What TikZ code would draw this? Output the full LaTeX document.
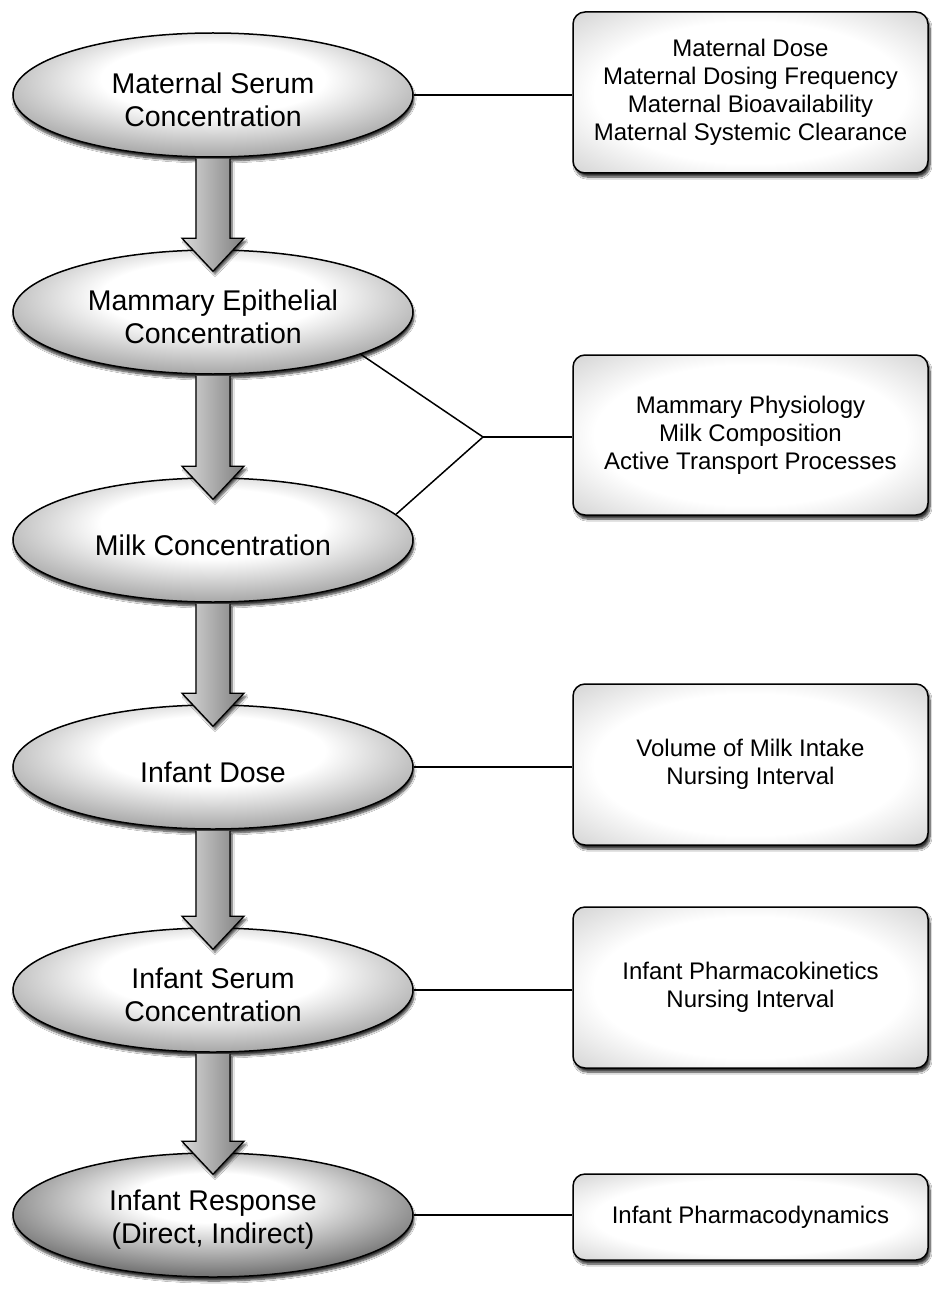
\documentclass[tikz,border=0pt]{standalone}
\usepackage{fontspec}
\setmainfont{Liberation Sans}
\usetikzlibrary{shapes.geometric,shadows.blur,calc}
\pgfdeclareradialshading{ellshade}{\pgfpoint{0bp}{8bp}}{color(0bp)=(white); color(14bp)=(white); color(30bp)=(black!35); color(42bp)=(black!60); color(50bp)=(black!70); color(75bp)=(black!70)}
\pgfdeclareradialshading{ellshadedark}{\pgfpoint{0bp}{8bp}}{color(0bp)=(white); color(10bp)=(white); color(26bp)=(black!45); color(38bp)=(black!82); color(46bp)=(black!97); color(75bp)=(black!97)}
\pgfdeclareradialshading{boxshade}{\pgfpoint{0bp}{0bp}}{color(0bp)=(white); color(22bp)=(white); color(42bp)=(black!25); color(50bp)=(black!35); color(75bp)=(black!45)}
\begin{document}
\begin{tikzpicture}[x=1pt,y=-1pt,
  ell/.style={ellipse, draw=black, line width=1.5pt, minimum width=400pt, minimum height=124pt,
    inner sep=0pt, shade, shading=ellshade,
    blur shadow={shadow xshift=1pt, shadow yshift=-4pt, shadow blur steps=8, shadow opacity=80}},
  elltext/.style={align=center, inner sep=0pt, yshift=-5pt, font=\fontsize{28.5}{33}\selectfont},
  infobox/.style={rectangle, rounded corners=12pt, draw=black, line width=1.5pt,
    minimum width=355pt, minimum height=161pt, inner sep=0pt, align=center, shade, shading=boxshade,
    blur shadow={shadow xshift=2pt, shadow yshift=-4pt, shadow blur steps=8, shadow opacity=80},
    font=\fontsize{24}{28}\selectfont},
  conn/.style={draw=black, line width=1.5pt},
  blockarrow/.style={draw=black, line width=1.3pt, line join=miter, left color=black!15, right color=black!50,
    blur shadow={shadow xshift=2pt, shadow yshift=-3pt, shadow blur steps=6, shadow opacity=70}}
]
\fill[white] (0,0) rectangle (932,1289);
\useasboundingbox (0,0) rectangle (932,1289);

% ellipses
\node[ell, label={[elltext]center:Maternal Serum\\Concentration}] (e1) at (213,95) {};
\node[ell, label={[elltext]center:Mammary Epithelial\\Concentration}] (e2) at (213,312) {};
\node[ell, label={[elltext]center:Milk Concentration}] (e3) at (213,540) {};
\node[ell, label={[elltext]center:Infant Dose}] (e4) at (213,767) {};
\node[ell, label={[elltext]center:Infant Serum\\Concentration}] (e5) at (213,990) {};
\node[ell, shading=ellshadedark, label={[elltext]center:Infant Response\\(Direct, Indirect)}] (e6) at (213,1215) {};

% boxes
\node[infobox] (b1) at (750.5,92.5) {Maternal Dose\\Maternal Dosing Frequency\\Maternal Bioavailability\\Maternal Systemic Clearance};
\node[infobox, minimum height=160pt] (b2) at (750.5,435) {Mammary Physiology\\Milk Composition\\Active Transport Processes};
\node[infobox] (b3) at (750.5,764.5) {Volume of Milk Intake\\Nursing Interval};
\node[infobox] (b4) at (750.5,987.5) {Infant Pharmacokinetics\\Nursing Interval};
\node[infobox, minimum height=86pt] (b5) at (750.5,1217) {Infant Pharmacodynamics};

% connectors
\coordinate (j) at (483,437);
\draw[conn] (e1.east) -- (e1.east -| b1.west);
\draw[conn] (e2.-16) -- (j) -- (e3.8);
\draw[conn] (j) -- (j -| b2.west);
\draw[conn] (e4.east) -- (e4.east -| b3.west);
\draw[conn] (e5.east) -- (e5.east -| b4.west);
\draw[conn] (e6.east) -- (e6.east -| b5.west);

% block arrows
\foreach \a/\b in {e1/e2,e2/e3,e3/e4,e4/e5,e5/e6}{
  \draw[blockarrow] let \p1=(\a.south), \p2=(\b.north) in
    (\x1-17pt,\y1-1pt) -- (\x1-17pt,\y2+11pt) -- (\x1-31pt,\y2+11pt) -- (\x1,\y2-22pt)
    -- (\x1+31pt,\y2+11pt) -- (\x1+17pt,\y2+11pt) -- (\x1+17pt,\y1-1pt);
}
\end{tikzpicture}
\end{document}
